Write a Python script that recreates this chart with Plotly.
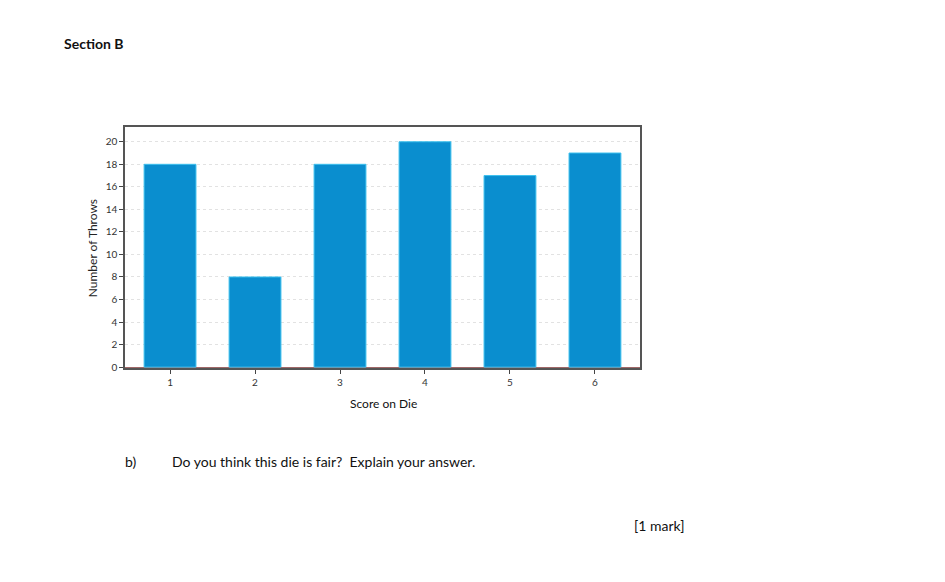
import plotly.graph_objects as go

scores = ["1", "2", "3", "4", "5", "6"]
throws = [18, 8, 18, 20, 17, 19]
y_ticks = [0, 2, 4, 6, 8, 10, 12, 14, 16, 18, 20]

W, H = 945, 582
def px(x): return x / W
def py(y): return 1 - y / H

fig = go.Figure(go.Bar(
    x=scores, y=throws, width=0.61,
    marker=dict(color="#0A8ECF", line=dict(color="#3CC0EE", width=1)),
))

font = "Lato, 'Open Sans', sans-serif"
fig.update_layout(
    width=W, height=H, margin=dict(l=0, r=0, t=0, b=0),
    paper_bgcolor="white", plot_bgcolor="white", showlegend=False,
    font=dict(family=font, color="#222"),
    xaxis=dict(domain=[px(125), px(640)], range=[-0.53, 5.53], type="category",
               showline=True, linecolor="#555", linewidth=1.5, mirror=True,
               ticks="outside", ticklen=4, tickcolor="#444",
               tickfont=dict(size=10, color="#333"), showgrid=False),
    yaxis=dict(domain=[py(371), py(128)], range=[-0.12, 21.3],
               tickvals=y_ticks, showline=True, linecolor="#555", linewidth=1.5, mirror=True,
               ticks="outside", ticklen=4, tickcolor="#444",
               tickfont=dict(size=10, color="#333"),
               showgrid=True, gridcolor="#e2e2e2", griddash="dot", gridwidth=1,
               zeroline=True, zerolinecolor="#a06868", zerolinewidth=1),
)

ann = [
    dict(text="<b>Section B</b>", x=px(62), y=py(44), xanchor="left", size=14),
    dict(text="Score on Die", x=px(383), y=py(406), xanchor="center", size=12),
    dict(text="b)", x=px(123), y=py(465), xanchor="left", size=14),
    dict(text="Do you think this die is fair?  Explain your answer.", x=px(170), y=py(465), xanchor="left", size=14),
    dict(text="[1 mark]", x=px(687), y=py(529), xanchor="right", size=14),
]
for a in ann:
    fig.add_annotation(text=a["text"], x=a["x"], y=a["y"], xref="paper", yref="paper",
                       xanchor=a["xanchor"], yanchor="middle", showarrow=False,
                       font=dict(size=a["size"], family=font, color="#111"))
fig.add_annotation(text="Number of Throws", x=px(92), y=py(250), xref="paper", yref="paper",
                   textangle=-90, showarrow=False, xanchor="center", yanchor="middle",
                   font=dict(size=12, family=font, color="#222"))

fig.write_html("out.html")
